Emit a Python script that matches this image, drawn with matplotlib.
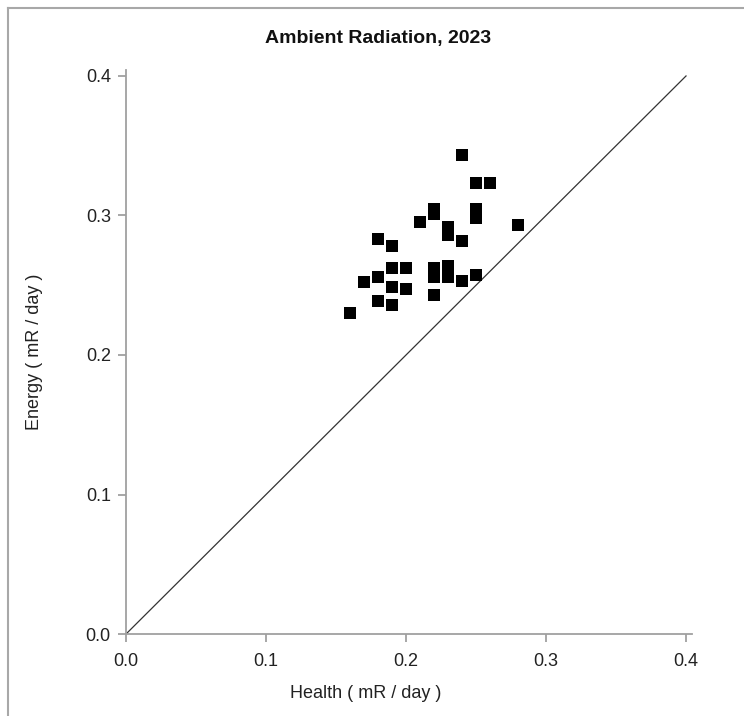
import matplotlib
matplotlib.use("Agg")
from matplotlib import pyplot as plt
from matplotlib.ticker import MultipleLocator, FormatStrFormatter
from matplotlib.lines import Line2D

plt.rcParams['font.family'] = ['Liberation Sans', 'DejaVu Sans']

# ambient radiation readings (mR / day)
health = [0.16, 0.17, 0.18, 0.18, 0.18, 0.19, 0.19, 0.19, 0.19, 0.20, 0.20,
          0.21, 0.22, 0.22, 0.22, 0.22, 0.22, 0.23, 0.23, 0.23, 0.23,
          0.24, 0.24, 0.24, 0.25, 0.25, 0.25, 0.25, 0.26, 0.28]
energy = [0.230, 0.252, 0.283, 0.256, 0.239, 0.278, 0.262, 0.249, 0.236, 0.262, 0.247,
          0.295, 0.305, 0.301, 0.262, 0.256, 0.243, 0.292, 0.286, 0.264, 0.256,
          0.343, 0.282, 0.253, 0.323, 0.305, 0.298, 0.257, 0.323, 0.293]
ref_line = [0.0, 0.4]
ticks = [0.0, 0.1, 0.2, 0.3, 0.4]

spine_grey = '#a0a0a0'

fig = plt.figure(figsize=(7.44, 7.16), dpi=100)
ax = fig.add_axes([0.1694, 0.1145, 0.9296 - 0.1694, 0.9017 - 0.1145])

ax.plot(ref_line, ref_line, color='#333333', linewidth=0.9)
ax.plot(health, energy, linestyle='none', marker='s', markersize=8.8,
        color='black', markeredgewidth=0)

ax.set_xlim(0, 0.404)
ax.set_ylim(0, 0.404)
ax.xaxis.set_major_formatter(FormatStrFormatter('%.1f'))
ax.yaxis.set_major_formatter(FormatStrFormatter('%.1f'))
ax.set_xticks(ticks)
ax.set_yticks(ticks)

for side in ['top', 'right']:
    ax.spines[side].set_visible(False)
for side in ['left', 'bottom']:
    ax.spines[side].set_color(spine_grey)
    ax.spines[side].set_linewidth(1.3)

ax.tick_params(axis='both', direction='out', length=6, width=1.3, color=spine_grey,
               labelsize=13, labelcolor='#222222')
ax.tick_params(axis='x', pad=8)
ax.tick_params(axis='y', pad=5)

ax.set_xlabel('Health ( mR / day )', fontsize=13, color='#222222')
ax.xaxis.set_label_coords(0.424, -0.091)
ax.set_ylabel('Energy ( mR / day )', fontsize=13, color='#222222')
ax.yaxis.set_label_coords(-0.147, 0.5)

fig.text(378 / 744, 1 - 38 / 716, 'Ambient Radiation, 2023', fontsize=14, fontweight='bold',
         ha='center', va='center', color='#111111')

# window frame on top and left edges
fig.add_artist(Line2D([8 / 744, 8 / 744], [0, 1 - 8 / 716], transform=fig.transFigure,
                      color='#a8a8a8', linewidth=1.5))
fig.add_artist(Line2D([8 / 744, 1], [1 - 8 / 716, 1 - 8 / 716], transform=fig.transFigure,
                      color='#a8a8a8', linewidth=1.5))

fig.savefig('out.png', dpi=100)
